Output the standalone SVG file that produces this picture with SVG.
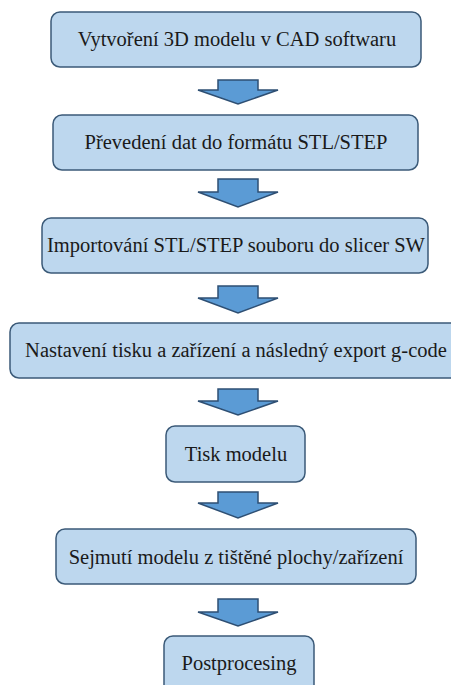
<svg xmlns="http://www.w3.org/2000/svg" width="451" height="685" viewBox="0 0 451 685">
<defs>
<style>
.box{fill:#BDD7EE;stroke:#3B5A78;stroke-width:1.5}
.arr{fill:#5B9BD5;stroke:#2E4F73;stroke-width:1.5;stroke-linejoin:miter}
.t{font-family:'Liberation Serif','Times New Roman',serif;font-size:20.5px;fill:#1a1a1a;text-anchor:middle}
</style>
</defs>
<rect width="451" height="685" fill="#ffffff"/>
<g id="n1"><rect class="box" x="51" y="12" width="370" height="55" rx="9"/><text class="t" x="237" y="46">Vytvoření 3D modelu v CAD softwaru</text></g>
<g id="n2"><rect class="box" x="53" y="115" width="365" height="55" rx="9"/><text class="t" x="236" y="149">Převedení dat do formátu STL/STEP</text></g>
<g id="n3"><rect class="box" x="42" y="218" width="386" height="55" rx="9"/><text class="t" x="236" y="252">Importování STL/STEP souboru do slicer SW</text></g>
<g id="n4"><rect class="box" x="10" y="323" width="450" height="55" rx="9"/><text class="t" x="236" y="357">Nastavení tisku a zařízení a následný export g-code</text></g>
<g id="n5"><rect class="box" x="166" y="426" width="139" height="56" rx="9"/><text class="t" x="236" y="461">Tisk modelu</text></g>
<g id="n6"><rect class="box" x="56" y="529" width="360" height="55" rx="9"/><text class="t" x="236" y="564">Sejmutí modelu z tištěné plochy/zařízení</text></g>
<g id="n7"><rect class="box" x="164" y="636" width="150" height="60" rx="9"/><text class="t" x="239" y="670">Postprocesing</text></g>
<g id="connectors">
<path class="arr" d="M218 80H258V90H278L238 104L198 90H218Z"/>
<path class="arr" d="M218 179H258V192H278L238 207L198 192H218Z"/>
<path class="arr" d="M218 286H258V298H278L238 313L198 298H218Z"/>
<path class="arr" d="M218 389H258V401H278L238 415L198 401H218Z"/>
<path class="arr" d="M218 492H258V503H278L238 518L198 503H218Z"/>
<path class="arr" d="M218 599H258V612H278L238 626L198 612H218Z"/>
</g>
</svg>
